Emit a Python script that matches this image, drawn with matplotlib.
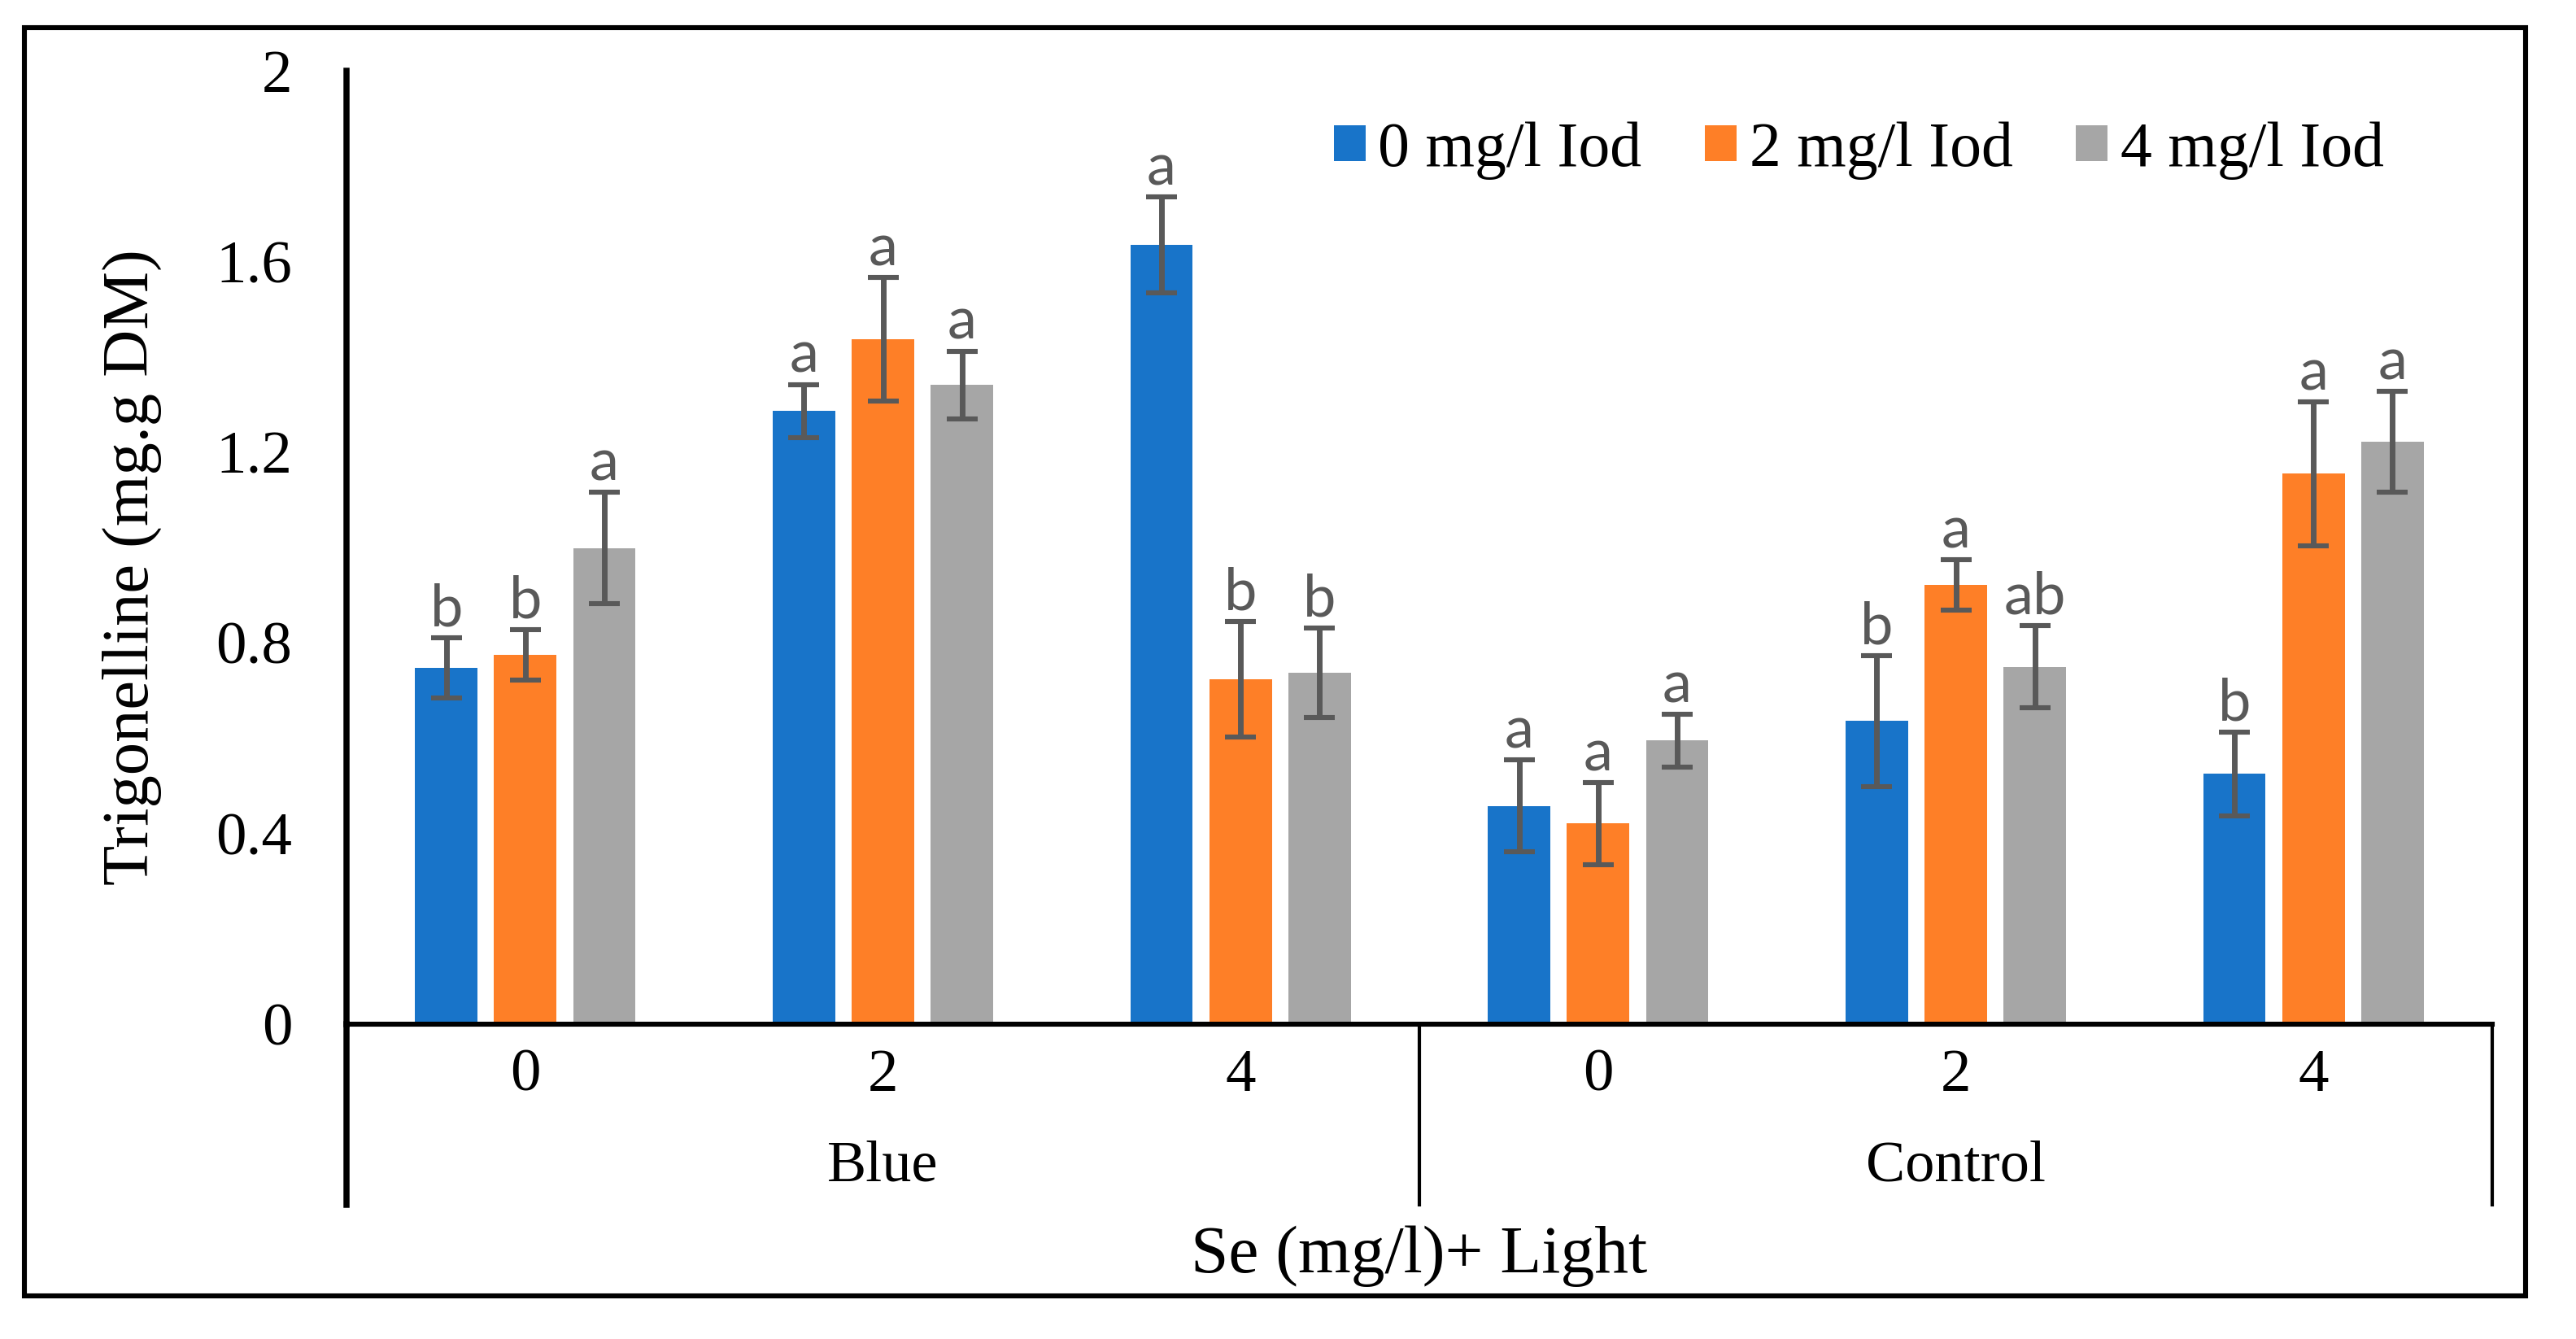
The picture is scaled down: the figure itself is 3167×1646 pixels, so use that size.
import matplotlib
matplotlib.use('Agg')
import matplotlib.pyplot as plt
import numpy as np
from matplotlib.patches import Rectangle

plt.rcParams['font.family'] = 'Liberation Serif'

se_levels = ['0', '2', '4', '0', '2', '4']
light = ['Blue', 'Control']
series = ['0 mg/l Iod', '2 mg/l Iod', '4 mg/l Iod']
colors = ['#1874C9', '#FE7F27', '#A6A6A6']

iod0 = [0.747, 1.286, 1.635, 0.458, 0.636, 0.525]
iod2 = [0.775, 1.437, 0.723, 0.421, 0.921, 1.155]
iod4 = [0.999, 1.341, 0.737, 0.595, 0.750, 1.222]
err0 = [0.063, 0.056, 0.101, 0.097, 0.137, 0.088]
err2 = [0.053, 0.130, 0.121, 0.086, 0.053, 0.151]
err4 = [0.117, 0.071, 0.094, 0.055, 0.086, 0.106]
letters0 = ['b', 'a', 'a', 'a', 'b', 'b']
letters2 = ['b', 'a', 'b', 'a', 'a', 'a']
letters4 = ['a', 'a', 'b', 'a', 'ab', 'a']

values = [iod0, iod2, iod4]
errors = [err0, err2, err4]
letters = [letters0, letters2, letters4]

W, H = 3167, 1646
fig = plt.figure(figsize=(W / 200, H / 200), dpi=200)
ax = fig.add_axes([426 / W, 1 - 1259 / H, (3064 - 426) / W, (1259 - 87) / H])

x = np.arange(len(se_levels))
step = 0.221
width = 0.175
for i in range(3):
    xs = x + (i - 1) * step
    ax.bar(xs, values[i], width, color=colors[i], label=series[i], zorder=2)
    ax.errorbar(xs, values[i], yerr=errors[i], fmt='none', ecolor='#595959',
                elinewidth=2.5, capsize=7, capthick=2.2, zorder=3)
    for xx, v, e, t in zip(xs, values[i], errors[i], letters[i]):
        ax.text(xx, v + e + 0.025, t, ha='center', va='baseline',
                fontsize=26, color='#595959', family='Lato', zorder=4)

ax.set_xlim(-0.5, 5.5)
ax.set_ylim(0, 2)
ax.set_yticks([0, 0.4, 0.8, 1.2, 1.6, 2])
ax.set_yticklabels(['0', '0.4', '0.8', '1.2', '1.6', '2'])
ax.tick_params(axis='y', length=0, pad=24, labelsize=27)
ax.set_xticks([])

for s in ['top', 'right']:
    ax.spines[s].set_visible(False)
ax.spines['left'].set_linewidth(2.7)
ax.spines['bottom'].set_linewidth(2.2)

# category boxes below the axis
low = -222 / 1172
ax.plot([-0.5, -0.5], [0, low], transform=ax.get_xaxis_transform(),
        color='black', lw=2.7, clip_on=False)
for xb in [2.5, 5.5]:
    ax.plot([xb, xb], [0, low], transform=ax.get_xaxis_transform(),
            color='black', lw=1.5, clip_on=False)
for xx, lab in zip(x, se_levels):
    ax.text(xx, -64 / 1172, lab, transform=ax.get_xaxis_transform(),
            ha='center', va='center', fontsize=27)
for k, lab in enumerate(light):
    ax.text(1 + 3 * k, -175 / 1172, lab, transform=ax.get_xaxis_transform(),
            ha='center', va='center', fontsize=26)
ax.text(2.5, -285 / 1172, 'Se (mg/l)+ Light', transform=ax.get_xaxis_transform(),
        ha='center', va='center', fontsize=30)

fig.text(162 / W, 1 - 697 / H, 'Trigonelline (mg.g DM)', rotation=90,
         ha='center', va='center', fontsize=29)

fig.legend(loc='center left', bbox_to_anchor=(1640 / W, 1 - 185 / H), ncol=3,
           frameon=False, fontsize=28, handlelength=0.5, handleheight=0.5,
           handletextpad=0.2, columnspacing=1.0, borderpad=0, borderaxespad=0)

fig.patches.append(Rectangle((30 / W, 1 - 1593 / H), (3105 - 30) / W, (1593 - 34) / H,
                             transform=fig.transFigure, fill=False,
                             edgecolor='black', lw=2.2))

fig.savefig('out.png', dpi=200)
